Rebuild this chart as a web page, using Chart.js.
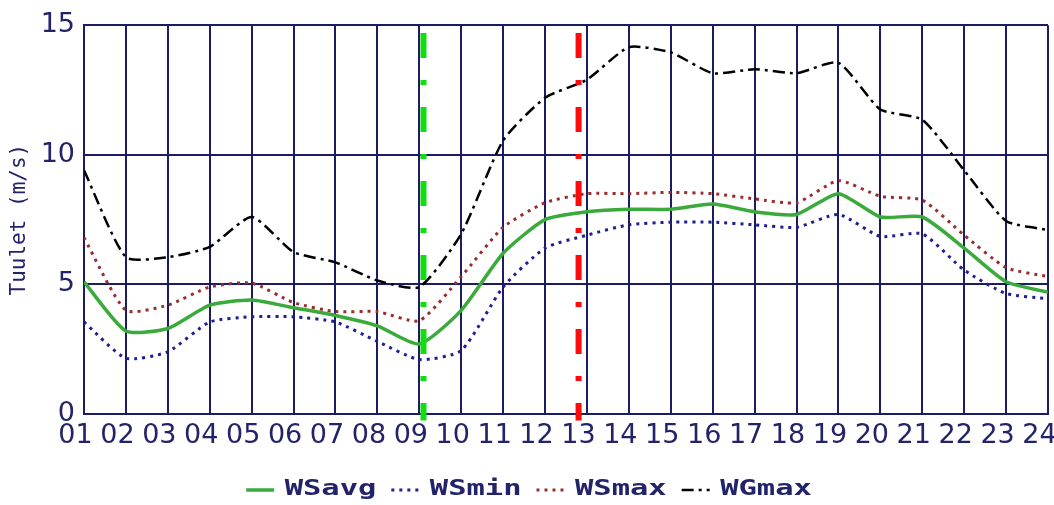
<!DOCTYPE html>
<html><head><meta charset="utf-8">
<script src="https://cdn.jsdelivr.net/npm/chart.js@4.4.1/dist/chart.umd.min.js"></script>
<style>html,body{margin:0;padding:0;background:#fff;}#wrap{width:1054px;height:505px;}</style>
</head><body><div id="wrap"><canvas id="c" width="1054" height="505"></canvas></div>
<script>
// ---- data ----
const hours = [1,2,3,4,5,6,7,8,9,10,11,12,13,14,15,16,17,18,19,20,21,22,23,24];
const hourLabels = ['01','02','03','04','05','06','07','08','09','10','11','12','13','14','15','16','17','18','19','20','21','22','23','24'];
const yTicks = [0,5,10,15];
const wsAvg = [5.1,3.2,3.3,4.2,4.4,4.1,3.8,3.4,2.7,4.0,6.2,7.5,7.8,7.9,7.9,8.1,7.8,7.7,8.5,7.6,7.6,6.4,5.1,4.7];
const wsMin = [3.55,2.15,2.4,3.55,3.75,3.75,3.55,2.8,2.1,2.45,4.9,6.4,6.9,7.3,7.4,7.4,7.3,7.2,7.7,6.85,6.95,5.55,4.65,4.45];
const wsMax = [6.8,4.0,4.2,4.9,5.05,4.3,3.95,3.95,3.6,5.3,7.2,8.15,8.5,8.5,8.55,8.5,8.3,8.15,9.0,8.4,8.25,6.9,5.65,5.3];
const wgMax = [9.4,6.05,6.05,6.45,7.6,6.25,5.85,5.15,4.9,6.95,10.55,12.2,12.9,14.15,13.95,13.15,13.3,13.15,13.55,11.75,11.35,9.4,7.45,7.1];
const markerTimes = [9.1, 12.8];
const markerSpan = [14.7, -0.25];

// ---- style ----
const NAVY = '#1c1c64';
const TXT = '#23236a';
const LEGEND_P = 15, LEGEND_H = 40.5, X_H = 50.5, SX = 1.45, LEGEND_SHIFT = 5;

const pts = arr => arr.map((v, i) => ({x: hours[i], y: v}));
const vline = t => markerSpan.map(v => ({x: t, y: v}));

const legendTweak = {
  id: 'legendTweak',
  beforeLayout(chart) {
    const lg = chart.legend;
    if (!lg || lg._tw) return;
    lg._tw = true;
    const stretch = (ctx, fn) => {
      const ft = ctx.fillText, mt = ctx.measureText;
      ctx.fillText = function(t, x, y) { this.save(); this.translate(x, y); this.scale(SX, 1); ft.call(this, t, 0, 0); this.restore(); };
      ctx.measureText = function(t) { const m = mt.call(this, t); return {width: m.width * SX}; };
      try { fn(); } finally { delete ctx.fillText; delete ctx.measureText; }
    };
    const fit = lg.fit, draw = lg.draw;
    lg.fit = function() { stretch(this.ctx, () => fit.call(this)); this.height = LEGEND_H; };
    lg.draw = function() {
      this.ctx.save(); this.ctx.translate(LEGEND_SHIFT, 0);
      stretch(this.ctx, () => draw.call(this));
      this.ctx.restore();
    };
  }
};

const tickFont = {family: "'DejaVu Sans'", size: 27};

new Chart(document.getElementById('c'), {
  type: 'line',
  data: {
    datasets: [
      {label: 'WSavg', data: pts(wsAvg), borderColor: '#3aaa3a', backgroundColor: '#3aaa3a', borderWidth: 3.5, tension: 0.2},
      {label: 'WSmin', data: pts(wsMin), borderColor: '#1f1f8f', backgroundColor: '#1f1f8f', borderWidth: 3, borderDash: [3,5], tension: 0.2},
      {label: 'WSmax', data: pts(wsMax), borderColor: '#992c2c', backgroundColor: '#992c2c', borderWidth: 3, borderDash: [3,5], tension: 0.2},
      {label: 'WGmax', data: pts(wgMax), borderColor: '#000000', backgroundColor: '#000000', borderWidth: 2.5, borderDash: [12,5,3,5], tension: 0.2},
      {label: 'mark1', data: vline(markerTimes[0]), borderColor: '#11dd11', borderWidth: 6, borderDash: [25,22,5,22], borderCapStyle: 'butt', clip: false, order: -1},
      {label: 'mark2', data: vline(markerTimes[1]), borderColor: '#ff0a0a', borderWidth: 6, borderDash: [25,22,5,22], borderCapStyle: 'butt', clip: false, order: -1}
    ]
  },
  options: {
    responsive: false, animation: false, devicePixelRatio: 1,
    layout: {padding: {top: 24, right: 6, left: 0, bottom: 0}},
    elements: {point: {radius: 0, hoverRadius: 0}},
    plugins: {
      tooltip: {enabled: false},
      legend: {
        position: 'bottom',
        labels: {
          usePointStyle: true, pointStyle: 'line', pointStyleWidth: 28,
          font: {family: "'DejaVu Sans Mono'", size: 21, weight: 'bold'},
          color: TXT, padding: LEGEND_P,
          generateLabels(chart) {
            const items = Chart.defaults.plugins.legend.labels.generateLabels(chart);
            return items.filter(it => it.datasetIndex < 4).map(it => {
              const ds = chart.data.datasets[it.datasetIndex];
              it.lineDash = ds.borderDash || []; it.lineWidth = ds.borderWidth; it.strokeStyle = ds.borderColor;
              return it;
            });
          }
        }
      }
    },
    scales: {
      x: {
        type: 'linear', min: hours[0], max: hours[hours.length - 1],
        ticks: {stepSize: 1, autoSkip: false, maxRotation: 0, padding: 6, labelOffset: -8.5,
          color: TXT, font: tickFont,
          callback: v => hourLabels[hours.indexOf(v)]},
        grid: {color: NAVY, lineWidth: 2, drawTicks: false},
        border: {color: NAVY, width: 2},
        afterFit(s) { s.paddingLeft = 0; s.paddingRight = 0; s.height = X_H; }
      },
      y: {
        min: yTicks[0], max: yTicks[yTicks.length - 1],
        afterBuildTicks(s) { s.ticks = yTicks.map(v => ({value: v})); },
        ticks: {padding: 9, color: TXT, font: tickFont},
        grid: {color: NAVY, lineWidth: 2, drawTicks: false},
        border: {color: NAVY, width: 2},
        title: {display: true, text: 'Tuulet (m/s)', color: TXT,
          font: {family: "'DejaVu Sans Mono'", size: 21}, padding: {top: 7, bottom: 0}},
        afterFit(s) { s.width = 84; }
      }
    }
  },
  plugins: [legendTweak]
});
</script></body></html>
